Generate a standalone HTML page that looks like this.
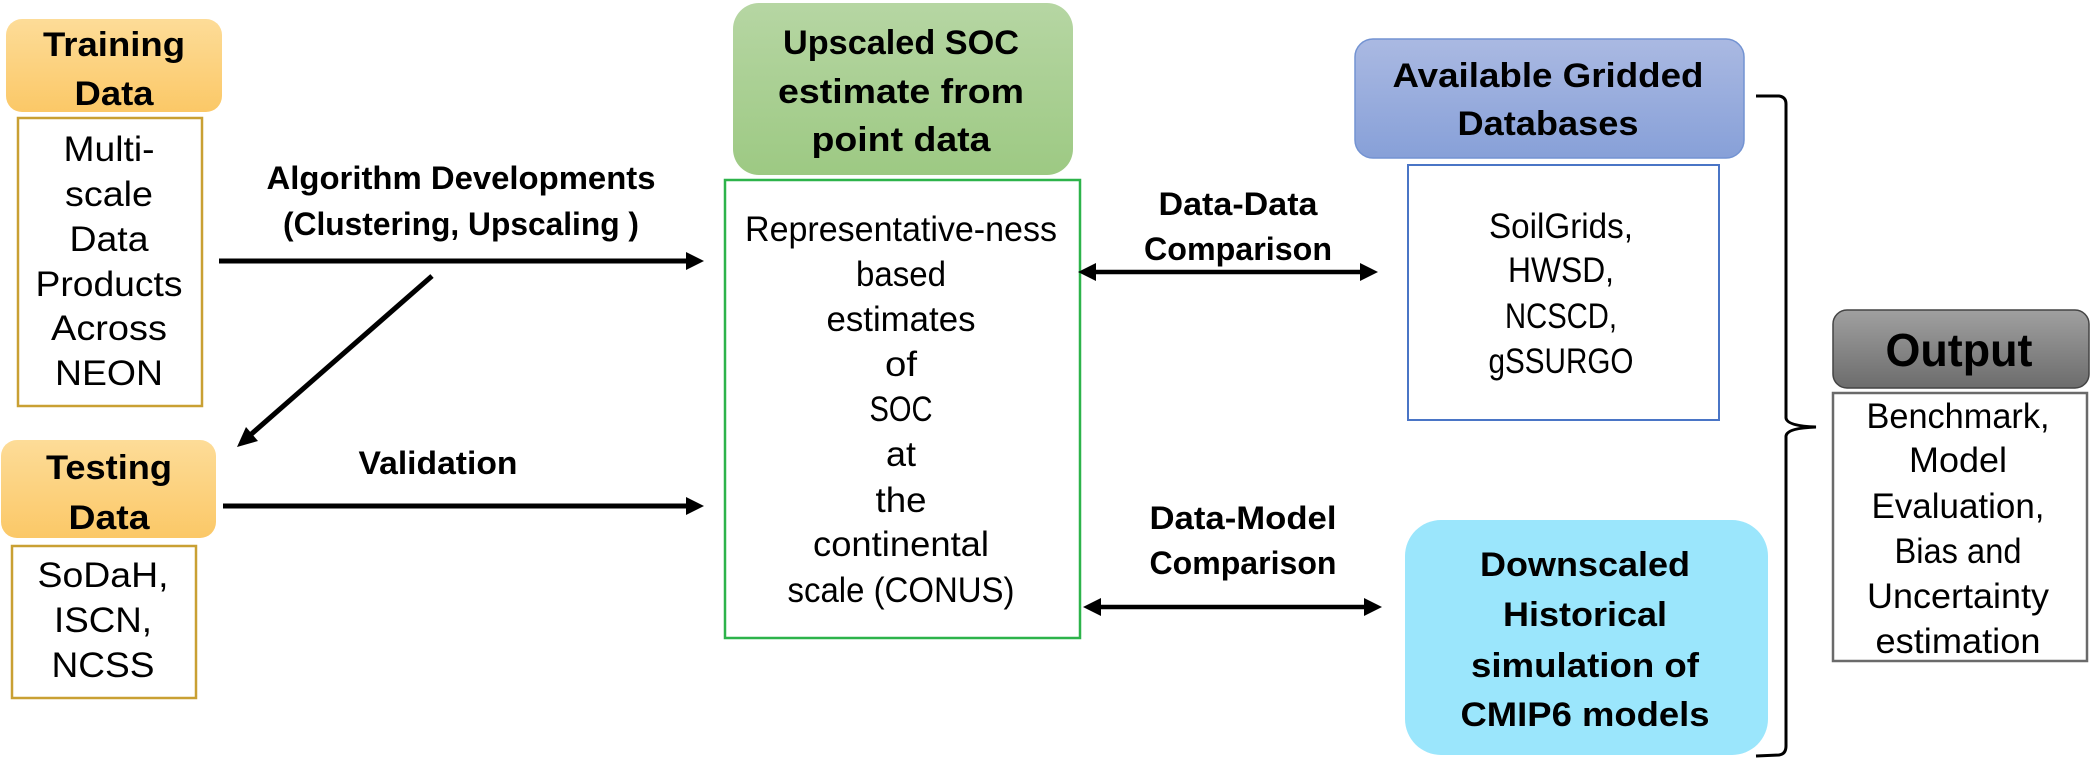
<!DOCTYPE html>
<html><head><meta charset="utf-8"><style>
html,body{margin:0;padding:0;background:#fff;}
svg{display:block;}
text{font-family:"Liberation Sans",sans-serif;fill:#000;text-anchor:middle;}
.b{font-weight:bold;font-size:34px;}
.r{font-size:35px;}
.l{font-weight:bold;font-size:32px;}
</style></head><body>
<svg width="2091" height="764" viewBox="0 0 2091 764" xmlns="http://www.w3.org/2000/svg">
<defs>
<linearGradient id="og" x1="0" y1="0" x2="0" y2="1"><stop offset="0" stop-color="#fddc98"/><stop offset="1" stop-color="#fbc867"/></linearGradient>
<linearGradient id="gg" x1="0" y1="0" x2="0" y2="1"><stop offset="0" stop-color="#b6d6a3"/><stop offset="1" stop-color="#9dc983"/></linearGradient>
<linearGradient id="bg" x1="0" y1="0" x2="0" y2="1"><stop offset="0" stop-color="#aab9e2"/><stop offset="1" stop-color="#87a0d8"/></linearGradient>
<linearGradient id="kg" x1="0" y1="0" x2="0" y2="1"><stop offset="0" stop-color="#a0a0a0"/><stop offset="1" stop-color="#6c6c6c"/></linearGradient>
</defs>

<rect x="6" y="19" width="216" height="93" rx="16" fill="url(#og)"/>
<text class="b" x="114" y="56" textLength="142" lengthAdjust="spacingAndGlyphs">Training</text>
<text class="b" x="114" y="105" textLength="79" lengthAdjust="spacingAndGlyphs">Data</text>
<rect x="18" y="118" width="184" height="288" fill="#fff" stroke="#c9a033" stroke-width="2.5"/>
<text class="r" x="109" y="161" textLength="91" lengthAdjust="spacingAndGlyphs">Multi-</text>
<text class="r" x="109" y="206" textLength="88" lengthAdjust="spacingAndGlyphs">scale</text>
<text class="r" x="109" y="251" textLength="79" lengthAdjust="spacingAndGlyphs">Data</text>
<text class="r" x="109" y="296" textLength="147" lengthAdjust="spacingAndGlyphs">Products</text>
<text class="r" x="109" y="340" textLength="116" lengthAdjust="spacingAndGlyphs">Across</text>
<text class="r" x="109" y="385" textLength="108" lengthAdjust="spacingAndGlyphs">NEON</text>

<rect x="1" y="440" width="215" height="98" rx="16" fill="url(#og)"/>
<text class="b" x="109" y="479" textLength="126" lengthAdjust="spacingAndGlyphs">Testing</text>
<text class="b" x="109" y="529" textLength="81" lengthAdjust="spacingAndGlyphs">Data</text>
<rect x="12" y="546" width="184" height="152" fill="#fff" stroke="#c9a033" stroke-width="2.5"/>
<text class="r" x="103" y="587" textLength="131" lengthAdjust="spacingAndGlyphs">SoDaH,</text>
<text class="r" x="103" y="632" textLength="98" lengthAdjust="spacingAndGlyphs">ISCN,</text>
<text class="r" x="103" y="677" textLength="103" lengthAdjust="spacingAndGlyphs">NCSS</text>

<line x1="219" y1="261" x2="688" y2="261" stroke="#000" stroke-width="5"/>
<polygon points="704,261 686,252 686,270" fill="#000"/>
<text class="l" x="461" y="189" textLength="389" lengthAdjust="spacingAndGlyphs">Algorithm Developments</text>
<text class="l" x="461" y="235" textLength="356" lengthAdjust="spacingAndGlyphs">(Clustering, Upscaling )</text>
<line x1="432" y1="276" x2="248" y2="437" stroke="#000" stroke-width="5"/>
<polygon points="237,447 246,427 258,441" fill="#000"/>
<line x1="223" y1="506" x2="688" y2="506" stroke="#000" stroke-width="5"/>
<polygon points="704,506 686,497 686,515" fill="#000"/>
<text class="l" x="438" y="474" textLength="159" lengthAdjust="spacingAndGlyphs">Validation</text>

<rect x="733" y="3" width="340" height="172" rx="26" fill="url(#gg)"/>
<text class="b" x="901" y="54" textLength="236" lengthAdjust="spacingAndGlyphs">Upscaled SOC</text>
<text class="b" x="901" y="103" textLength="246" lengthAdjust="spacingAndGlyphs">estimate from</text>
<text class="b" x="901" y="151" textLength="179" lengthAdjust="spacingAndGlyphs">point data</text>
<rect x="725" y="180" width="355" height="458" fill="#fff" stroke="#2db34a" stroke-width="2.5"/>
<text class="r" x="901" y="241" textLength="312" lengthAdjust="spacingAndGlyphs">Representative-ness</text>
<text class="r" x="901" y="286" textLength="90" lengthAdjust="spacingAndGlyphs">based</text>
<text class="r" x="901" y="331" textLength="149" lengthAdjust="spacingAndGlyphs">estimates</text>
<text class="r" x="901" y="376" textLength="32" lengthAdjust="spacingAndGlyphs">of</text>
<text class="r" x="901" y="421" textLength="63" lengthAdjust="spacingAndGlyphs">SOC</text>
<text class="r" x="901" y="466" textLength="30" lengthAdjust="spacingAndGlyphs">at</text>
<text class="r" x="901" y="512" textLength="51" lengthAdjust="spacingAndGlyphs">the</text>
<text class="r" x="901" y="556" textLength="176" lengthAdjust="spacingAndGlyphs">continental</text>
<text class="r" x="901" y="602" textLength="227" lengthAdjust="spacingAndGlyphs">scale  (CONUS)</text>

<line x1="1094" y1="272" x2="1362" y2="272" stroke="#000" stroke-width="4.5"/>
<polygon points="1078,272 1096,263 1096,281" fill="#000"/>
<polygon points="1378,272 1360,263 1360,281" fill="#000"/>
<text class="l" x="1238" y="215" textLength="159" lengthAdjust="spacingAndGlyphs">Data-Data</text>
<text class="l" x="1238" y="260" textLength="188" lengthAdjust="spacingAndGlyphs">Comparison</text>
<line x1="1099" y1="607" x2="1366" y2="607" stroke="#000" stroke-width="4.5"/>
<polygon points="1083,607 1101,598 1101,616" fill="#000"/>
<polygon points="1382,607 1364,598 1364,616" fill="#000"/>
<text class="l" x="1243" y="529" textLength="187" lengthAdjust="spacingAndGlyphs">Data-Model</text>
<text class="l" x="1243" y="574" textLength="187" lengthAdjust="spacingAndGlyphs">Comparison</text>

<rect x="1355" y="39" width="389" height="119" rx="18" fill="url(#bg)" stroke="#7393d2" stroke-width="1.5"/>
<text class="b" x="1548" y="87" textLength="311" lengthAdjust="spacingAndGlyphs">Available Gridded</text>
<text class="b" x="1548" y="135" textLength="181" lengthAdjust="spacingAndGlyphs">Databases</text>
<rect x="1408" y="165" width="311" height="255" fill="#fff" stroke="#4a75c6" stroke-width="2"/>
<text class="r" x="1561" y="238" textLength="144" lengthAdjust="spacingAndGlyphs">SoilGrids,</text>
<text class="r" x="1561" y="282" textLength="106" lengthAdjust="spacingAndGlyphs">HWSD,</text>
<text class="r" x="1561" y="328" textLength="112" lengthAdjust="spacingAndGlyphs">NCSCD,</text>
<text class="r" x="1561" y="373" textLength="145" lengthAdjust="spacingAndGlyphs">gSSURGO</text>

<rect x="1405" y="520" width="363" height="235" rx="36" fill="#9be6fc"/>
<text class="b" x="1585" y="576" textLength="210" lengthAdjust="spacingAndGlyphs">Downscaled</text>
<text class="b" x="1585" y="626" textLength="164" lengthAdjust="spacingAndGlyphs">Historical</text>
<text class="b" x="1585" y="677" textLength="228" lengthAdjust="spacingAndGlyphs">simulation of</text>
<text class="b" x="1585" y="726" textLength="249" lengthAdjust="spacingAndGlyphs">CMIP6 models</text>

<path d="M1756,96 L1779,96 Q1786,97 1786,104 L1786,418 Q1787,426 1816,427 Q1787,428 1786,436 L1786,746 Q1786,754 1779,755 L1756,756" fill="none" stroke="#000" stroke-width="3"/>

<rect x="1833" y="310" width="256" height="78" rx="14" fill="url(#kg)" stroke="#444" stroke-width="1.5"/>
<text class="b" x="1959" y="366" textLength="147" lengthAdjust="spacingAndGlyphs" style="font-size:46px">Output</text>
<rect x="1833" y="393" width="254" height="268" fill="#fff" stroke="#6a6a6a" stroke-width="2.5"/>
<text class="r" x="1958" y="428" textLength="183" lengthAdjust="spacingAndGlyphs">Benchmark,</text>
<text class="r" x="1958" y="472" textLength="98" lengthAdjust="spacingAndGlyphs">Model</text>
<text class="r" x="1958" y="518" textLength="173" lengthAdjust="spacingAndGlyphs">Evaluation,</text>
<text class="r" x="1958" y="563" textLength="127" lengthAdjust="spacingAndGlyphs">Bias and</text>
<text class="r" x="1958" y="608" textLength="182" lengthAdjust="spacingAndGlyphs">Uncertainty</text>
<text class="r" x="1958" y="653" textLength="165" lengthAdjust="spacingAndGlyphs">estimation</text>
</svg>
</body></html>
